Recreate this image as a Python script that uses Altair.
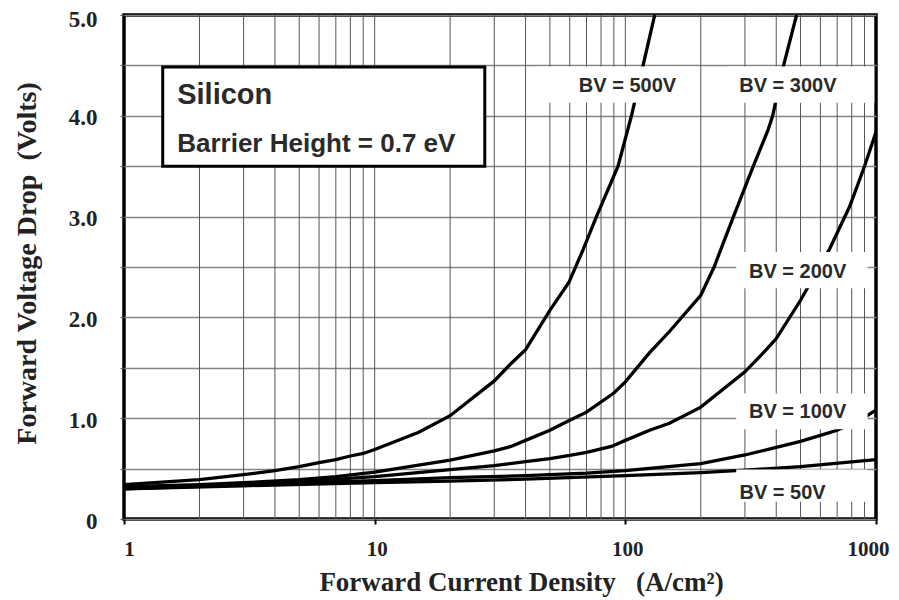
import altair as alt
import pandas as pd

# ---------------- data ----------------
j_50 = [1, 3, 10, 20, 40, 100, 200, 300, 500, 1000]
v_50 = [0.30, 0.33, 0.36, 0.375, 0.395, 0.43, 0.46, 0.485, 0.52, 0.59]

j_100 = [1, 3, 10, 20, 40, 70, 100, 200, 300, 400, 500, 600, 700, 800, 900, 1000]
v_100 = [0.30, 0.34, 0.38, 0.41, 0.43, 0.455, 0.48, 0.55, 0.635, 0.71, 0.77, 0.83, 0.88, 0.945, 1.01, 1.08]

j_200 = [1, 3, 5, 10, 20, 30, 40, 50, 60, 70, 88, 100, 125, 150, 200, 300, 365, 400, 500, 650, 785, 900, 1000]
v_200 = [0.31, 0.345, 0.37, 0.42, 0.49, 0.53, 0.57, 0.60, 0.63, 0.66, 0.72, 0.78, 0.88, 0.95, 1.11, 1.46, 1.68, 1.79, 2.17, 2.67, 3.10, 3.50, 3.84]

j_300 = [1, 2, 3, 5, 7, 10, 20, 30, 35, 40, 50, 60, 70, 90, 100, 125, 150, 200, 226, 270, 324, 371, 387, 428, 482]
v_300 = [0.32, 0.34, 0.36, 0.39, 0.42, 0.465, 0.585, 0.675, 0.72, 0.78, 0.88, 0.98, 1.06, 1.25, 1.36, 1.65, 1.86, 2.22, 2.5, 3.0, 3.5, 3.86, 4.0, 4.5, 5.0]

j_500 = [1, 2, 3, 4, 5, 6, 7, 8, 9, 10, 15, 20, 30, 34.6, 40, 50, 59.6, 67.8, 76.7, 93.5, 105.8, 117.7, 131]
v_500 = [0.34, 0.39, 0.44, 0.48, 0.52, 0.56, 0.59, 0.625, 0.65, 0.69, 0.86, 1.025, 1.37, 1.53, 1.68, 2.07, 2.35, 2.67, 3.0, 3.5, 4.0, 4.5, 5.0]

series_names = ["BV = 50V", "BV = 100V", "BV = 200V", "BV = 300V", "BV = 500V"]
series_j = [j_50, j_100, j_200, j_300, j_500]
series_v = [v_50, v_100, v_200, v_300, v_500]

# curve labels (text, anchor J, anchor V) and their white backing boxes
label_text = ["BV = 500V", "BV = 300V", "BV = 200V", "BV = 100V", "BV = 50V"]
label_j = [102, 445, 487, 487, 424]
label_v = [4.30, 4.30, 2.45, 1.06, 0.26]
box_j1 = [45, 256, 277, 277, 277]
box_j2 = [195, 985, 926, 926, 926]
box_v1 = [4.13, 4.13, 2.29, 0.89, 0.17]
box_v2 = [4.49, 4.49, 2.65, 1.245, 0.49]

# info box
info_text = ["Silicon", "Barrier Height = 0.7 eV"]
info_j = [1.63, 1.63]
info_v = [4.117, 3.644]
info_size = [29, 26]
info_box_j = [1.427, 27.5]
info_box_v = [3.50, 4.485]

x_grid = [2, 3, 4, 5, 6, 7, 8, 9, 10, 20, 30, 40, 50, 60, 70, 80, 90, 100,
          200, 300, 400, 500, 600, 700, 800, 900]
x_ticks = [1, 10, 100, 1000]
y_ticks = [0, 0.5, 1, 1.5, 2, 2.5, 3, 3.5, 4, 4.5, 5]

NBSP = "\u00a0"
x_title = "Forward Current Density" + NBSP * 3 + "(A/cm²)"
y_title = "Forward Voltage Drop" + NBSP * 2 + "(Volts)"

# ---------------- tables ----------------
rows = []
for name, js, vs in zip(series_names, series_j, series_v):
    for i, (j, v) in enumerate(zip(js, vs)):
        rows.append({"x": j, "y": v, "series": name, "order": i})
curves = pd.DataFrame(rows)
grid_df = pd.DataFrame({"x": x_grid})
labels_df = pd.DataFrame({"t": label_text, "x": label_j, "y": label_v})
boxes_df = pd.DataFrame({"x": box_j1, "x2": box_j2, "y": box_v1, "y2": box_v2})
info_df = pd.DataFrame({"t": info_text, "x": info_j, "y": info_v, "s": info_size})
info_box_df = pd.DataFrame({"x": [info_box_j[0]], "x2": [info_box_j[1]],
                            "y": [info_box_v[0]], "y2": [info_box_v[1]]})

SERIF = "Liberation Serif"
SANS = "Liberation Sans"

xscale = alt.Scale(type="log", domain=[1, 1000], nice=False)
yscale = alt.Scale(domain=[0, 5], nice=False, zero=True)

xaxis = alt.Axis(
    values=x_ticks, grid=False, domain=False, ticks=True, tickSize=5,
    tickColor="black", tickWidth=2, format="d",
    labelFont=SERIF, labelFontWeight="bold", labelFontSize=21, labelColor="#222",
    labelPadding=14, labelFlush=False, labelOverlap=False,
    labelOffset={"condition": [{"test": "datum.value == 1", "value": 5},
                               {"test": "datum.value == 1000", "value": -8}],
                 "value": 2},
    title=x_title, titleFont=SERIF,
    titleFontWeight="bold", titleFontSize=27, titleColor="#222",
    titleX=397, titleY=71, titleBaseline="alphabetic", titleAlign="center",
)
yaxis = alt.Axis(
    values=y_ticks, grid=True, gridColor="#858585", gridWidth=1.4,
    domain=False, ticks=True, tickSize=4, tickColor="#555",
    labelExpr="datum.value % 1 == 0 ? (datum.value == 0 ? '0' : format(datum.value, '.1f')) : ''",
    labelFont=SERIF, labelFontWeight="bold", labelFontSize=23, labelColor="#222",
    labelPadding=23, labelOverlap=False,
    labelOffset={"condition": [{"test": "datum.value == 5", "value": 4}], "value": 2},
    title=y_title, titleFont=SERIF,
    titleFontWeight="bold", titleFontSize=28, titleColor="#222",
    titleX=-97, titleY=248, titleAngle=270, titleAlign="center", titleBaseline="middle",
)

X = lambda f="x": alt.X(f"{f}:Q", scale=xscale, axis=xaxis)
Y = lambda f="y": alt.Y(f"{f}:Q", scale=yscale, axis=yaxis)

rules = alt.Chart(grid_df).mark_rule(color="#555", strokeWidth=1).encode(x=X())

lines = alt.Chart(curves).mark_line(color="black", strokeWidth=3.3, clip=True).encode(
    x=X(), y=Y(), detail="series:N", order="order:Q"
)

boxes = alt.Chart(boxes_df).mark_rect(fill="white").encode(
    x=X(), x2="x2:Q", y=Y(), y2="y2:Q"
)

info_box = alt.Chart(info_box_df).mark_rect(fill="white", stroke="black", strokeWidth=3).encode(
    x=X(), x2="x2:Q", y=Y(), y2="y2:Q"
)

labels = alt.Chart(labels_df).mark_text(
    font=SANS, fontWeight="bold", fontSize=20, color="#2a2a2a",
    align="center", baseline="middle"
).encode(x=X(), y=Y(), text="t:N")

info = alt.Chart(info_df).mark_text(
    font=SANS, fontWeight="bold", color="#2a2a2a", align="left", baseline="alphabetic"
).encode(x=X(), y=Y(), text="t:N", size=alt.Size("s:Q", scale=None, legend=None))

chart = alt.layer(rules, lines, boxes, info_box, labels, info).properties(
    width=752, height=504,
    autosize=alt.AutoSizeParams(type="none"),
    padding={"left": 116, "top": 7, "right": 14, "bottom": 78},
    background="white",
).configure_view(stroke="black", strokeWidth=3.5)

chart.save("out.html", embed_options={"renderer": "svg", "actions": False})
